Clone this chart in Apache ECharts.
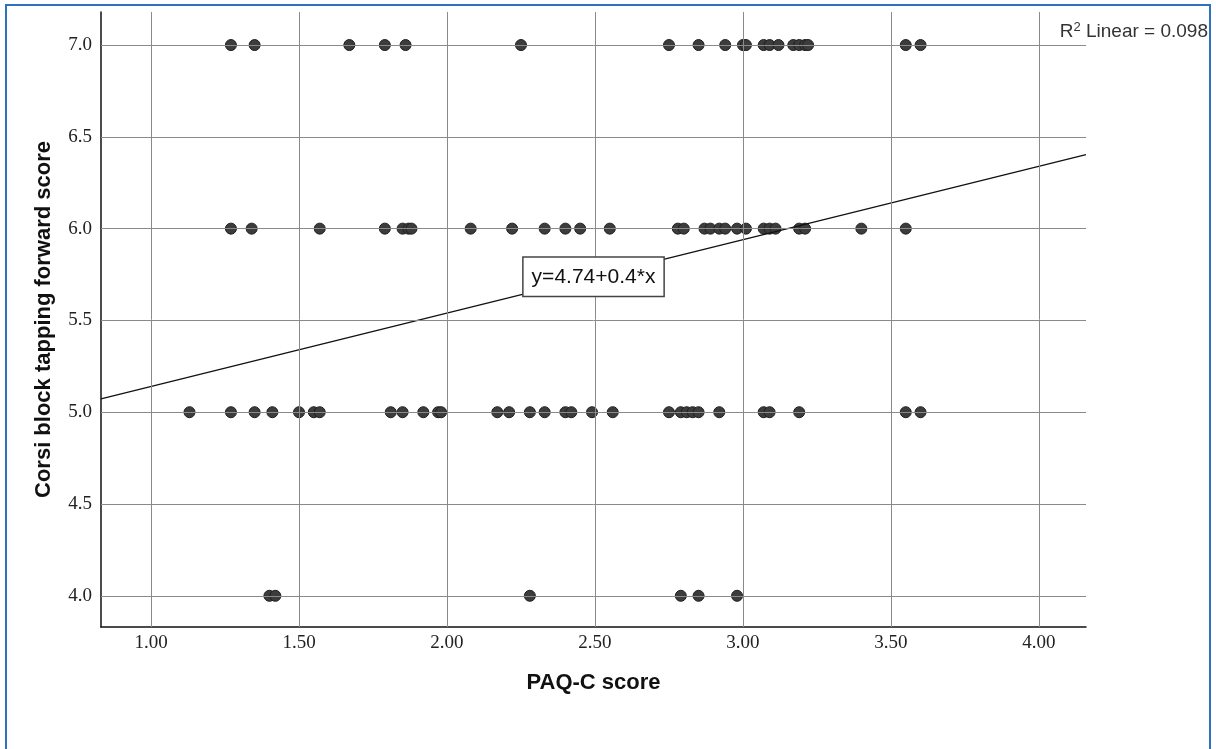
<!DOCTYPE html>
<html>
<head>
<meta charset="utf-8">
<title>Corsi vs PAQ-C</title>
<script src="https://cdn.jsdelivr.net/npm/echarts@6/dist/echarts.min.js"></script>
<style>
  html, body { margin: 0; padding: 0; background: #fff; }
  #chart { width: 1216px; height: 749px; }
</style>
</head>
<body>
<div id="chart"></div>
<script>
// PAQ-C scores, one list per Corsi score row
var paqAt7 = [1.27, 1.35, 1.67, 1.79, 1.86, 2.25, 2.75, 2.85, 2.94, 3.00, 3.01, 3.07, 3.09, 3.12, 3.17, 3.19, 3.21, 3.22, 3.55, 3.60];
var paqAt6 = [1.27, 1.34, 1.57, 1.79, 1.85, 1.87, 1.88, 2.08, 2.22, 2.33, 2.40, 2.45, 2.55, 2.78, 2.80, 2.87, 2.89, 2.92, 2.94, 2.98, 3.01, 3.07, 3.09, 3.11, 3.19, 3.21, 3.40, 3.55];
var paqAt5 = [1.13, 1.27, 1.35, 1.41, 1.50, 1.55, 1.57, 1.81, 1.85, 1.92, 1.97, 1.98, 2.17, 2.21, 2.28, 2.33, 2.40, 2.42, 2.49, 2.56, 2.75, 2.79, 2.81, 2.83, 2.85, 2.92, 3.07, 3.09, 3.19, 3.55, 3.60];
var paqAt4 = [1.40, 1.42, 2.28, 2.79, 2.85, 2.98];

var xTicks = [1.0, 1.5, 2.0, 2.5, 3.0, 3.5, 4.0];
var yTicks = [4.0, 4.5, 5.0, 5.5, 6.0, 6.5, 7.0];
var xRange = [0.831, 4.159];
var yRange = [3.83, 7.18];

// fit line y = a + b*x
var fitIntercept = 4.74;
var fitSlope = 0.4;
var fitText = 'y=4.74+0.4*x';
var rSquared = '0.098';

var points = [];
[[7, paqAt7], [6, paqAt6], [5, paqAt5], [4, paqAt4]].forEach(function (row) {
    row[1].forEach(function (x) { points.push([x, row[0]]); });
});

var fitLine = xRange.map(function (x) { return [x, fitIntercept + fitSlope * x]; });
var midX = (xRange[0] + xRange[1]) / 2;
var midY = fitIntercept + fitSlope * midX;

// lineas de cuadricula como markLine
var gridMarks = xTicks.map(function (v) { return { xAxis: v }; })
    .concat(yTicks.map(function (v) { return { yAxis: v }; }));

var chart = echarts.init(document.getElementById('chart'));
chart.setOption({
    backgroundColor: '#fff',
    animation: false,
    grid: { left: 101, right: 130, top: 12, bottom: 122 },
    xAxis: {
        type: 'value',
        min: xRange[0],
        max: xRange[1],
        name: 'PAQ-C score',
        nameLocation: 'middle',
        nameGap: 45,
        nameTextStyle: { fontFamily: 'Liberation Sans', fontWeight: 'bold', fontSize: 22, color: '#111' },
        axisLine: { onZero: false, lineStyle: { color: '#111', width: 1.5 } },
        axisTick: { show: false },
        splitLine: { show: false },
        axisLabel: {
            customValues: xTicks,
            formatter: function (v) { return v.toFixed(2); },
            fontFamily: 'Liberation Serif',
            fontSize: 19,
            color: '#222',
            margin: 7
        }
    },
    yAxis: {
        type: 'value',
        min: yRange[0],
        max: yRange[1],
        name: 'Corsi block tapping forward score',
        nameLocation: 'middle',
        nameGap: 46,
        nameTextStyle: { fontFamily: 'Liberation Sans', fontWeight: 'bold', fontSize: 22, color: '#111' },
        axisLine: { onZero: false, lineStyle: { color: '#111', width: 1.5 } },
        axisTick: { show: false },
        splitLine: { show: false },
        axisLabel: {
            customValues: yTicks,
            formatter: function (v) { return v.toFixed(1); },
            fontFamily: 'Liberation Serif',
            fontSize: 19,
            color: '#222',
            margin: 9
        }
    },
    graphic: [
        {
            type: 'rect',
            silent: true,
            shape: { x: 6, y: 5, width: 1204, height: 760 },
            style: { fill: 'none', stroke: '#3070c0', lineWidth: 2 }
        },
        {
            type: 'text',
            right: 8,
            top: 21,
            style: {
                text: 'R{sup|2} Linear = ' + rSquared,
                fontFamily: 'Liberation Sans',
                fontSize: 19,
                fill: '#333',
                rich: {
                    sup: { fontFamily: 'Liberation Sans', fontSize: 13, fill: '#333', verticalAlign: 'top', padding: [0, 0, 8, 0] }
                }
            }
        }
    ],
    series: [
        {
            name: 'grid',
            type: 'scatter',
            data: [],
            z: 1,
            silent: true,
            markLine: {
                silent: true,
                symbol: 'none',
                label: { show: false },
                lineStyle: { type: 'solid', color: '#8a8a8a', width: 1 },
                data: gridMarks
            }
        },
        {
            name: 'Corsi',
            type: 'scatter',
            z: 3,
            symbolSize: 11,
            itemStyle: { color: '#3c3c3c', borderColor: '#1e1e1e', borderWidth: 1, opacity: 1 },
            data: points
        },
        {
            name: 'Fit',
            type: 'line',
            z: 4,
            symbol: 'none',
            lineStyle: { color: '#111', width: 1.3 },
            data: fitLine,
            markPoint: {
                symbol: 'circle',
                symbolSize: 0,
                label: {
                    show: true,
                    position: 'inside',
                    formatter: fitText,
                    fontFamily: 'Liberation Sans',
                    fontSize: 21,
                    lineHeight: 24,
                    color: '#111',
                    backgroundColor: '#fff',
                    borderColor: '#444',
                    borderWidth: 1.5,
                    padding: [7, 8, 7, 8]
                },
                data: [{ coord: [midX, midY] }]
            }
        }
    ]
});
</script>
</body>
</html>
